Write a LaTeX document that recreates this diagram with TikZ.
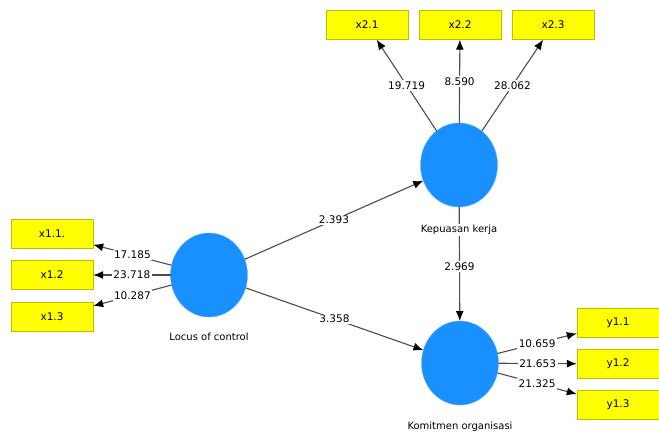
\documentclass[tikz,border=0pt]{standalone}
\usepackage{fontspec}
\setmainfont{DejaVu Sans}
\usepackage{xcolor}
\usepackage{tikz}
\usetikzlibrary{shapes,arrows.meta,positioning}
\definecolor{latentblue}{RGB}{24,144,255}
\definecolor{indyellow}{RGB}{255,255,0}
\definecolor{indborder}{RGB}{190,190,0}
\tikzset{
latent/.style = {ellipse, fill=latentblue, draw=latentblue!70!white, inner sep=0pt, outer sep=0pt, minimum width=77pt, minimum height=84pt},
indicator/.style = {draw=indborder, fill=indyellow, rectangle, inner sep=0pt, minimum width=82pt, minimum height=29pt, font=\fontsize{10.5}{12}\selectfont},
coef/.style = {fill=white, inner sep=1.5pt, font=\fontsize{10.5}{12}\selectfont},
caption/.style = {fill=white, inner sep=1pt, font=\fontsize{10}{12}\selectfont},
link/.style = {draw=black!70, line width=1.1pt, ->}
}

\begin{document}
\begin{tikzpicture}[x=1pt, y=-1pt, >={Latex[length=10pt,width=8pt,black]}]
    \useasboundingbox (0,0) rectangle (659,433);
    % latent variables
    \node [latent] (lc) at (209,275) {};
    \node [latent] (kk) at (459,165) {};
    \node [latent] (ko) at (460,363) {};
    % indicators
    \node [indicator] (x11) at (52,234) {x1.1.};
    \node [indicator] (x12) at (52,275) {x1.2};
    \node [indicator] (x13) at (52,317) {x1.3};
    \node [indicator] (x21) at (367,25) {x2.1};
    \node [indicator] (x22) at (460,25) {x2.2};
    \node [indicator] (x23) at (553,25) {x2.3};
    \node [indicator] (y11) at (618,323) {y1.1};
    \node [indicator] (y12) at (618,364) {y1.2};
    \node [indicator] (y13) at (618,405) {y1.3};
    % outer model
    \draw [link] (lc) -- node[coef]{17.185} (x11);
    \draw [link] (lc) -- node[coef]{23.718} (x12);
    \draw [link] (lc) -- node[coef]{10.287} (x13);
    \draw [link] (kk) -- node[coef]{19.719} (x21);
    \draw [link] (kk) -- node[coef]{8.590} (x22);
    \draw [link] (kk) -- node[coef]{28.062} (x23);
    \draw [link] (ko) -- node[coef]{10.659} (y11);
    \draw [link] (ko) -- node[coef]{21.653} (y12);
    \draw [link] (ko) -- node[coef]{21.325} (y13);
    % inner model
    \draw [link] (lc) -- node[coef]{2.393} (kk);
    \draw [link] (lc) -- node[coef]{3.358} (ko);
    \draw [link] (kk) -- node[coef, pos=0.52]{2.969} (ko);
    % names
    \node [caption, below=15pt of lc] (lclabel) {Locus of control};
    \node [caption, below=17pt of kk] (kklabel) {Kepuasan kerja};
    \node [caption, below=16pt of ko] (kolabel) {Komitmen organisasi};
\end{tikzpicture}
\end{document}
